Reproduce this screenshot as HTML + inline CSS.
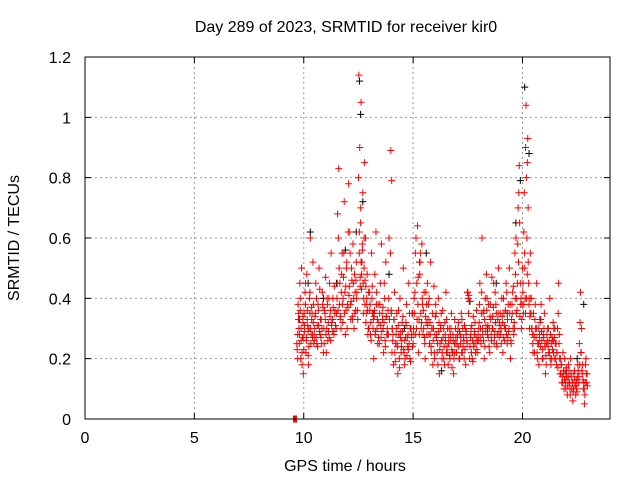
<!DOCTYPE html>
<html><head><meta charset="utf-8"><style>
body{margin:0;background:#fff;font-family:"Liberation Sans",sans-serif}
svg text{font-family:"Liberation Sans",sans-serif;font-size:16px;fill:#000}
</style></head><body>
<svg id="c" width="640" height="480">
<rect width="640" height="480" fill="#fff"/>
<text x="346" y="32" text-anchor="middle">Day 289 of 2023, SRMTID for receiver kir0</text>
<text x="345" y="471" text-anchor="middle">GPS time / hours</text>
<text transform="translate(19,238) rotate(-90)" text-anchor="middle">SRMTID / TECUs</text>
<g id="grid"></g><g id="ticks"></g><g id="marks"></g>
<rect x="85" y="57" width="525" height="362" fill="none" stroke="#000"/>
</svg>
<script>
const xTicks=[0,5,10,15,20];
const yTicks=[0,0.2,0.4,0.6,0.8,1,1.2];
const yTickLabels=["0","0.2","0.4","0.6","0.8","1","1.2"];
const redTimes=[9.70,9.74,9.78,9.82,9.86,9.90,9.94,9.98,10.02,10.06,10.10,10.14,10.18,10.22,10.26,10.30,10.34,10.38,10.42,10.46,
10.50,10.55,10.60,10.65,10.70,10.75,10.80,10.85,10.90,10.95,11.00,11.05,11.10,11.15,11.20,11.25,11.30,11.35,11.40,11.45,
11.50,11.55,11.60,11.65,11.70,11.75,11.80,11.85,11.90,11.95,12.00,12.05,12.10,12.15,12.20,12.25,12.30,12.35,12.40,12.45,
12.52,12.56,12.60,12.62,12.66,12.70,12.74,12.78,12.82,12.86,12.90,12.95,
13.00,13.05,13.10,13.15,13.20,13.25,13.30,13.35,13.40,13.45,13.50,13.55,13.60,13.65,13.70,13.75,13.80,13.85,13.90,13.98,
14.02,14.05,14.10,14.15,14.20,14.25,14.30,14.35,14.40,14.45,14.50,14.55,14.60,14.65,14.70,14.75,14.80,14.85,14.90,14.95,
15.00,15.05,15.10,15.15,15.20,15.25,15.30,15.35,15.40,15.45,15.50,15.55,15.60,15.65,
15.70,15.75,15.80,15.85,15.90,15.95,16.00,16.05,16.10,16.15,16.20,16.25,16.30,16.35,16.40,16.45,16.50,16.55,16.60,16.65,16.70,16.75,16.80,16.85,16.90,16.95,
17.00,17.05,17.10,17.15,17.20,17.25,17.30,17.35,17.40,17.45,17.50,17.55,17.60,17.65,17.70,17.75,17.80,17.85,17.90,17.95,
18.00,18.05,18.10,18.15,18.20,18.25,18.30,18.35,18.40,18.45,18.50,18.55,18.60,18.65,18.70,18.75,18.80,18.85,18.90,18.95,
19.00,19.05,19.10,19.15,19.20,19.25,19.30,19.35,19.40,19.45,19.50,19.55,19.60,19.65,19.70,19.75,19.80,19.85,19.90,19.95,
20.00,20.04,20.08,20.12,20.16,20.20,20.24,20.28,20.32,20.36,
20.40,20.45,20.50,20.55,20.60,20.65,20.70,20.75,20.80,20.85,20.90,20.95,21.00,21.05,21.10,21.15,21.20,21.25,21.30,21.35,21.40,21.45,
21.50,21.55,21.60,21.65,21.70,21.75,21.80,21.85,21.90,21.95,22.00,22.05,22.10,22.15,22.20,22.25,22.30,22.35,22.40,22.45,22.50,22.55,22.60,22.65,22.70,22.75,22.80,22.85,22.90,22.95];
const redValues=[0.23,0.38,0.30,0.45,0.20,0.50,0.27,0.15,0.35,0.42,0.22,0.48,0.31,0.18,0.40,0.60,0.28,0.35,0.52,0.25,
0.30,0.45,0.25,0.38,0.50,0.28,0.33,0.42,0.22,0.36,0.47,0.30,0.26,0.40,0.34,0.55,0.29,0.37,0.44,0.31,
0.35,0.68,0.83,0.45,0.30,0.55,0.40,0.72,0.28,0.50,0.38,0.78,0.62,0.33,0.46,0.58,0.30,0.42,0.52,0.36,
1.14,0.90,0.65,1.05,0.52,0.75,0.40,0.85,0.60,0.35,0.48,0.30,
0.42,0.28,0.55,0.35,0.20,0.48,0.62,0.30,0.38,0.25,0.45,0.58,0.33,0.22,0.40,0.52,0.28,0.36,0.60,0.89,
0.79,0.30,0.18,0.42,0.25,0.35,0.15,0.28,0.40,0.22,0.32,0.50,0.18,0.27,0.38,0.24,0.45,0.20,0.30,0.35,
0.25,0.40,0.55,0.30,0.64,0.22,0.48,0.35,0.58,0.28,0.42,0.20,0.32,0.45,
0.38,0.25,0.52,0.30,0.18,0.44,0.28,0.35,0.22,0.40,0.15,0.30,0.26,0.36,0.20,0.32,0.42,0.24,0.18,0.30,0.28,0.35,0.22,0.15,0.33,0.27,
0.25,0.30,0.20,0.28,0.35,0.22,0.27,0.31,0.18,0.26,0.42,0.41,0.24,0.30,0.20,0.34,0.28,0.22,0.36,0.26,
0.30,0.45,0.25,0.60,0.35,0.20,0.40,0.48,0.28,0.38,0.22,0.33,0.47,0.30,0.25,0.42,0.35,0.28,0.50,0.32,
0.28,0.40,0.22,0.35,0.30,0.45,0.25,0.38,0.50,0.20,0.33,0.42,0.28,0.55,0.60,0.36,0.70,0.84,0.45,0.30,
0.50,0.35,0.75,0.40,1.04,0.60,0.93,0.45,0.30,0.55,
0.40,0.28,0.35,0.22,0.30,0.45,0.25,0.18,0.32,0.38,0.20,0.28,0.35,0.15,0.25,0.30,0.22,0.40,0.18,0.27,0.32,0.20,
0.25,0.18,0.30,0.45,0.20,0.15,0.12,0.22,0.10,0.16,0.14,0.08,0.18,0.12,0.20,0.10,0.06,0.15,0.11,0.13,0.09,0.16,0.25,0.42,0.30,0.18,0.12,0.08,0.20,0.15];
const redValues2=[0.28,0.33,0.25,0.36,0.30,0.22,0.34,0.27,0.31,0.38,0.26,0.33,0.29,0.24,0.35,0.30,0.37,0.27,0.32,0.28,
0.34,0.27,0.31,0.36,0.29,0.33,0.25,0.38,0.30,0.35,0.28,0.40,0.32,0.27,0.36,0.31,0.33,0.29,0.35,0.30,
0.40,0.36,0.50,0.33,0.42,0.38,0.47,0.35,0.44,0.52,0.37,0.41,0.55,0.39,0.34,0.45,0.48,0.36,0.40,0.33,
0.55,0.47,0.52,0.43,0.58,0.45,0.50,0.38,0.44,0.40,0.36,0.42,
0.36,0.32,0.40,0.30,0.34,0.28,0.38,0.33,0.27,0.35,0.31,0.29,0.37,0.32,0.26,0.34,0.30,0.28,0.33,0.36,
0.30,0.26,0.33,0.22,0.28,0.25,0.31,0.20,0.27,0.24,0.29,0.23,0.26,0.32,0.21,0.28,0.25,0.30,0.27,0.24,
0.30,0.35,0.28,0.45,0.38,0.33,0.52,0.30,0.40,0.36,0.27,0.34,0.38,0.31,
0.28,0.32,0.24,0.30,0.26,0.22,0.34,0.27,0.25,0.29,0.23,0.31,0.20,0.27,0.24,0.28,0.22,0.30,0.25,0.21,0.26,0.23,0.28,0.20,0.25,0.22,
0.27,0.24,0.29,0.25,0.22,0.30,0.26,0.23,0.28,0.25,0.40,0.39,0.27,0.22,0.26,0.24,0.29,0.25,0.23,0.28,
0.32,0.27,0.35,0.30,0.26,0.33,0.29,0.36,0.31,0.24,0.34,0.28,0.30,0.37,0.27,0.32,0.25,0.33,0.29,0.31,
0.30,0.34,0.27,0.31,0.36,0.28,0.33,0.29,0.35,0.26,0.38,0.30,0.32,0.40,0.35,0.45,0.52,0.65,0.38,0.33,
0.42,0.38,0.55,0.35,0.80,0.48,0.70,0.38,0.34,0.40,
0.30,0.25,0.28,0.33,0.27,0.22,0.30,0.26,0.24,0.29,0.23,0.27,0.25,0.21,0.28,0.24,0.26,0.20,0.25,0.23,0.22,0.27,
0.20,0.22,0.17,0.25,0.15,0.18,0.14,0.16,0.13,0.12,0.17,0.11,0.14,0.10,0.15,0.12,0.09,0.13,0.11,0.10,0.14,0.12,0.18,0.22,0.16,0.13,0.10,0.12,0.15,0.11];
const redValues3=[0.25,0.20,0.35,0.28,0.40,0.26,0.18,0.32,0.23,0.29,0.45,0.27,0.36,0.21,0.30,0.42,0.25,0.33,0.28,0.38,
0.26,0.35,0.40,0.24,0.31,0.43,0.27,0.30,0.37,0.25,0.33,0.22,0.38,0.29,0.45,0.26,0.32,0.40,0.28,0.36,
0.30,0.45,0.60,0.38,0.34,0.48,0.32,0.55,0.42,0.36,0.30,0.62,0.44,0.38,0.50,0.33,0.40,0.35,0.46,0.42,
0.80,0.62,0.44,0.70,0.48,0.56,0.35,0.60,0.46,0.32,0.38,0.28,
0.30,0.38,0.26,0.44,0.33,0.36,0.29,0.42,0.25,0.32,0.38,0.27,0.35,0.30,0.45,0.24,0.34,0.28,0.40,0.55,
0.35,0.22,0.28,0.33,0.19,0.30,0.24,0.36,0.17,0.29,0.26,0.34,0.22,0.20,0.31,0.27,0.23,0.35,0.19,0.28,
0.35,0.28,0.42,0.60,0.33,0.47,0.28,0.55,0.32,0.38,0.30,0.25,0.42,0.28,
0.33,0.40,0.28,0.22,0.35,0.30,0.20,0.38,0.28,0.18,0.32,0.25,0.35,0.22,0.30,0.18,0.26,0.33,0.22,0.27,0.20,0.30,0.17,0.26,0.22,0.30,
0.22,0.28,0.32,0.20,0.27,0.33,0.24,0.20,0.30,0.29,0.42,0.35,0.20,0.28,0.31,0.19,0.25,0.32,0.27,0.22,
0.26,0.38,0.30,0.42,0.28,0.36,0.24,0.31,0.40,0.27,0.30,0.38,0.26,0.34,0.45,0.29,0.38,0.24,0.35,0.27,
0.35,0.25,0.32,0.40,0.26,0.30,0.42,0.27,0.30,0.38,0.25,0.35,0.44,0.30,0.48,0.40,0.58,0.75,0.34,0.40,
0.38,0.45,0.62,0.50,0.90,0.40,0.85,0.52,0.40,0.35,
0.35,0.30,0.22,0.27,0.38,0.30,0.20,0.25,0.28,0.33,0.26,0.20,0.30,0.24,0.18,0.26,0.30,0.22,0.28,0.20,0.26,0.30,
0.30,0.25,0.22,0.35,0.28,0.20,0.18,0.12,0.15,0.20,0.10,0.14,0.12,0.16,0.08,0.14,0.12,0.10,0.16,0.08,0.12,0.18,0.14,0.32,0.22,0.15,0.10,0.05,0.18,0.12];
const blackTimes=[9.8,10.2,10.3,10.9,11.5,11.9,12.4,12.55,12.6,12.7,13.2,13.9,14.6,15.3,15.6,16.3,16.9,17.6,18.4,18.8,19.3,19.7,19.9,20.1,20.3,20.8,21.4,22.0,22.5,22.8];
const blackValues=[0.33,0.45,0.62,0.40,0.45,0.56,0.62,1.12,1.01,0.72,0.35,0.48,0.30,0.52,0.55,0.16,0.25,0.39,0.30,0.45,0.35,0.65,0.79,1.10,0.88,0.33,0.26,0.15,0.20,0.38];
const outlierTimes=[9.6];
const outlierValues=[0];

const NS="http://www.w3.org/2000/svg";
const X=t=>85+t*525/24, Y=v=>419-v*362/1.2;
const grid=document.getElementById('grid'),ticks=document.getElementById('ticks'),marks=document.getElementById('marks');
function mk(tag,attrs,parent){const e=document.createElementNS(NS,tag);for(const k in attrs)e.setAttribute(k,attrs[k]);parent.appendChild(e);return e;}
xTicks.forEach(t=>{const x=X(t);
 if(t>0){const g=mk('line',{x1:x,x2:x,y1:57,y2:419,stroke:'#999','stroke-dasharray':'2,3','stroke-width':1},grid);
 
 }
 const tk=mk('path',{d:`M${x},419v-6M${x},57v6`,stroke:'#000','stroke-width':1},ticks);
 
 
 const l=mk('text',{x:x,y:443,'text-anchor':'middle'},ticks);l.textContent=t;
 
 });
yTicks.forEach((v,i)=>{const y=Y(v);
 if(v>0&&v<1.2){const g=mk('line',{x1:85,x2:610,y1:y,y2:y,stroke:'#999','stroke-dasharray':'2,3','stroke-width':1},grid);
 
 }
 const tk=mk('path',{d:`M85,${y}h6M610,${y}h-6`,stroke:'#000','stroke-width':1},ticks);
 
 
 const l=mk('text',{x:71,y:y+6,'text-anchor':'end'},ticks);l.textContent=yTickLabels[i];
 
 });
function plus(t,v,col,name,dx){const x=X(t)+dx,y=Y(v);
 const p=mk('path',{d:`M${x-3.5},${y}h7M${x},${y-3.5}v7`,stroke:col,'stroke-width':1,fill:'none'},marks);
 
 }
blackTimes.forEach((t,i)=>plus(t,blackValues[i],'#000','black-point',0));
redTimes.forEach((t,i)=>plus(t,redValues2[i],'#f00','red-point',0.4));
redTimes.forEach((t,i)=>plus(t,redValues3[i],'#f00','red-point',-0.4));
redTimes.forEach((t,i)=>plus(t,redValues[i],'#f00','red-point',0));
outlierTimes.forEach((t,i)=>{const r=mk('rect',{x:X(t)-2,y:Y(outlierValues[i])-3.5,width:4,height:7,fill:'#f00'},marks);
 
 });
</script>
</body></html>
